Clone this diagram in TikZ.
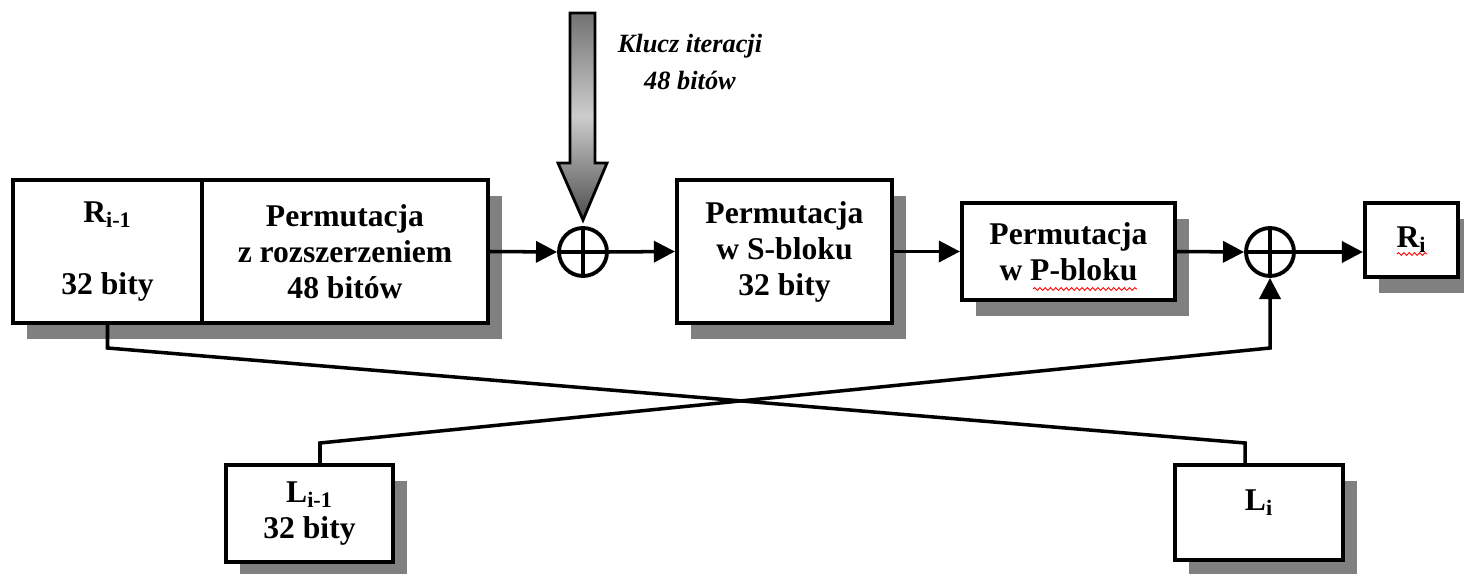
\documentclass[tikz,border=0pt]{standalone}
\usepackage{fontspec}
\setmainfont{Liberation Serif}
\usetikzlibrary{arrows.meta,shadows,decorations.pathmorphing}

\begin{document}
\begin{tikzpicture}[x=0.02cm,y=-0.02cm,
  blok/.style={draw=black,line width=2.4pt,fill=white,align=center,inner sep=0pt,
    font=\fontsize{18}{20.5}\selectfont\bfseries,
    drop shadow={shadow xshift=8pt,shadow yshift=-9pt,fill=black!50,opacity=1}},
  xor/.style={circle,draw=black,line width=2.2pt,fill=white,minimum size=0.96cm,inner sep=0pt,
    path picture={\draw[line width=2.2pt]
      (path picture bounding box.north) -- (path picture bounding box.south)
      (path picture bounding box.west) -- (path picture bounding box.east);}},
  wire/.style={line width=2pt},
  strzalka/.style={wire,-{Triangle[length=12pt,width=12pt]}},
  falka/.style={red,line width=0.5pt,decorate,decoration={snake,amplitude=0.8pt,segment length=3pt}}
]
\useasboundingbox (0,0) rectangle (1464,574);

% Klucz iteracji
\draw[line width=1.6pt,top color=black!55,bottom color=black!70,middle color=black!20]
  (570,13) -- (595,13) -- (595,163) -- (607,163) -- (583,220) -- (558,163) -- (570,163) -- cycle;
\node[font=\fontsize{15}{21}\selectfont\bfseries\itshape,align=center] (klucz) at (690,62)
  {Klucz iteracji\\48 bitów};

% Prawa polowka i rozszerzenie
\node[blok,minimum width=3.78cm,minimum height=2.86cm] (Rprev) at (107.5,251.5)
  {R\textsubscript{i-1}\\[20pt]32 bity};
\node[blok,minimum width=5.72cm,minimum height=2.86cm] (rozsz) at (345,251.5)
  {Permutacja\\z rozszerzeniem\\48 bitów};
\node[xor] (xor1) at (583,252) {};

% S-bloki, P-blok
\node[blok,minimum width=4.3cm,minimum height=2.86cm] (sblok) at (784.5,251.5)
  {Permutacja\\w S-bloku\\32 bity};
\node[blok,minimum width=4.26cm,minimum height=1.94cm] (pblok) at (1068.5,251.5)
  {Permutacja\\w P-bloku};
\node[xor] (xor2) at (1270,252) {};
\node[blok,minimum width=1.86cm,minimum height=1.48cm] (Ri) at (1411.5,240) {R\textsubscript{i}};

% Lewe polowki
\node[blok,minimum width=3.34cm,minimum height=1.94cm] (Lprev) at (309.5,513.5)
  {L\textsubscript{i-1}\\32 bity};
\node[blok,minimum width=3.36cm,minimum height=1.9cm,text depth=14pt] (Li) at (1259,512.5)
  {L\textsubscript{i}};

% Glowna sciezka
\draw[strzalka] (rozsz.east) -- (xor1.west);
\draw[strzalka] (xor1.east) -- (sblok.west);
\draw[strzalka] (sblok.east) -- (pblok.west);
\draw[strzalka] (pblok.east) -- (xor2.west);
\draw[strzalka] (xor2.east) -- (xor2.east -| Ri.west);

% Skrzyzowanie polowek
\coordinate (rzlam) at (107.5,348);
\coordinate (lzlam) at (1245,443);
\draw[wire] (Rprev.south) -- (rzlam) -- (lzlam) -- (lzlam |- Li.north);
\coordinate (lpzlam) at (320,443);
\coordinate (xzlam) at (1270,348);
\draw[strzalka] (lpzlam |- Lprev.north) -- (lpzlam) -- (xzlam) -- (xor2.south);

% podkreslenia
\draw[falka] (1033,289) -- (1137,289);
\draw[falka] (1397,254) -- (1427,254);
\end{tikzpicture}
\end{document}
